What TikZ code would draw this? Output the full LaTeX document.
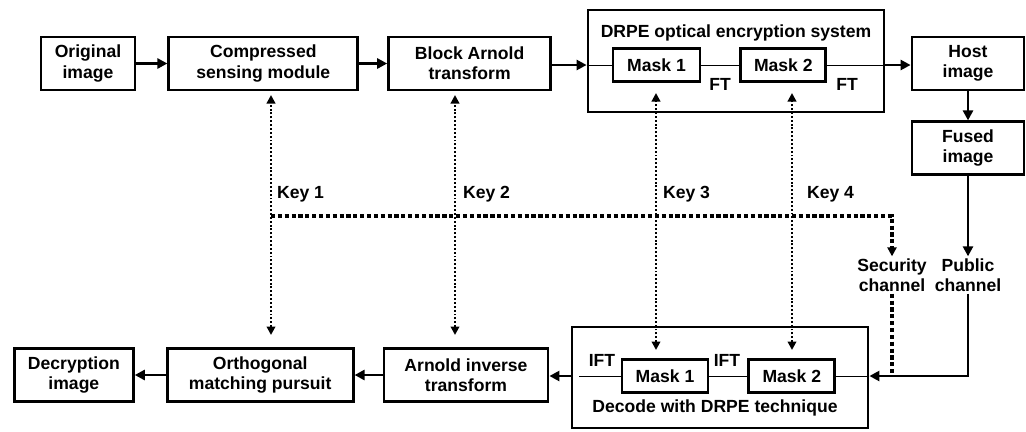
\documentclass[tikz,border=0pt]{standalone}
\usepackage{fontspec}
\setmainfont{Liberation Sans}
\usetikzlibrary{positioning}
\usetikzlibrary{arrows.meta}

\begin{document}
\begin{tikzpicture}[
                font=\fontsize{10}{11.5}\selectfont\bfseries,
                blocknode/.style={rectangle, draw=black, line width=1.6pt, align=center, minimum height=1.06cm, inner sep=1pt},
                masknode/.style={rectangle, draw=black, line width=1.6pt, minimum width=1.72cm, minimum height=0.66cm, inner sep=1pt, fill=white},
                framenode/.style={rectangle, draw=black, line width=1.6pt, minimum width=5.92cm},
                labelnode/.style={align=center, inner sep=1pt},
                flow/.style={-{Triangle[length=2mm, width=2mm]}, line width=1.6pt},
                inline/.style={line width=0.5pt},
                keyline/.style={{Triangle[length=1.7mm, width=1.7mm]}-{Triangle[length=1.7mm, width=1.7mm]}, line width=1.35pt, dash pattern=on 1.1pt off 1.1pt},
                keybus/.style={line width=2.1pt, dash pattern=on 2.4pt off 1.5pt},
                ]
                \useasboundingbox (0,0) rectangle (20.52,-8.62);

                % encryption side
                \node[blocknode, minimum width=1.88cm] (O) at (1.76,-1.27) {Original\\image};
                \node[blocknode, minimum width=3.78cm, right=0.62cm of O] (C) {Compressed\\sensing module};
                \node[blocknode, minimum width=3.24cm, right=0.56cm of C] (B) {Block Arnold\\transform};

                \node[framenode, minimum height=2.04cm] (E) at (14.72,-1.22) {};
                \node[labelnode] (ET) at (14.72,-0.66) {DRPE optical encryption system};
                \node[masknode, minimum width=1.74cm] (M1) at (13.13,-1.3) {Mask 1};
                \node[masknode, minimum width=1.7cm, right=0.76cm of M1] (M2) {Mask 2};
                \node[labelnode] (FT1) at (14.4,-1.68) {FT};
                \node[labelnode] (FT2) at (16.94,-1.68) {FT};

                \node[blocknode, minimum width=2.24cm] (H) at (19.36,-1.27) {Host\\image};
                \node[blocknode, minimum width=2.24cm, below=0.58cm of H] (F) {Fused\\image};

                \node[labelnode] (S) at (17.84,-5.5) {Security\\channel};
                \node[labelnode] (P) at (19.36,-5.5) {Public\\channel};

                % decryption side
                \node[framenode, minimum height=2.02cm] (D) at (14.4,-7.55) {};
                \node[labelnode] (DT) at (14.3,-8.16) {Decode with DRPE technique};
                \node[masknode] (N1) at (13.3,-7.52) {Mask 1};
                \node[masknode, right=0.76cm of N1] (N2) {Mask 2};
                \node[labelnode] (IFT1) at (12.04,-7.2) {IFT};
                \node[labelnode] (IFT2) at (14.54,-7.2) {IFT};

                \node[blocknode, minimum width=3.28cm] (A) at (9.32,-7.5) {Arnold inverse\\transform};
                \node[blocknode, minimum width=3.72cm, left=0.56cm of A] (R) {Orthogonal\\matching pursuit};
                \node[blocknode, minimum width=2.38cm, left=0.62cm of R] (X) {Decryption\\image};

                % keys
                \coordinate (k1t) at (5.42,-1.9);
                \coordinate (k1b) at (5.42,-6.7);
                \coordinate (k2t) at (9.1,-1.9);
                \coordinate (k2b) at (9.1,-6.7);
                \coordinate (k3t) at (13.12,-1.86);
                \coordinate (k3b) at (13.12,-7.0);
                \coordinate (k4t) at (15.84,-1.86);
                \coordinate (k4b) at (15.84,-7.0);
                \coordinate (kbus) at (5.42,-4.32);

                \node[labelnode, anchor=west] (K1) at (5.5,-3.88) {Key 1};
                \node[labelnode, anchor=west] (K2) at (9.22,-3.88) {Key 2};
                \node[labelnode, anchor=west] (K3) at (13.22,-3.88) {Key 3};
                \node[labelnode, anchor=west] (K4) at (16.1,-3.88) {Key 4};

                % top row flow
                \draw[flow] (O) -- (C);
                \draw[flow] (C) -- (B);
                \draw[flow] (B.east |- M1) -- (E.west |- M1);
                \draw[inline] (E.west |- M1) -- (M1.west);
                \draw[inline] (M1.east) -- (M2.west);
                \draw[inline] (M2.east) -- (E.east |- M2);
                \draw[flow] (E.east |- M2) -- (H.west |- M2);
                \draw[flow] (H) -- (F);
                \draw[flow] (F) -- (P);

                % channels
                \draw[flow] (P.south) |- (D.east |- N2);
                \draw[keybus] (S.south) -- (S.south |- N2);
                \draw[keybus, -{Triangle[length=1.8mm, width=1.8mm]}] (kbus) -| (S.north);

                % bottom row flow
                \draw[inline] (D.east |- N2) -- (N2.east);
                \draw[inline] (N2.west) -- (N1.east);
                \draw[inline] (N1.west) -- ([xshift=0.16cm]D.west |- N1);
                \draw[flow] (D.west |- N1) -- (A.east |- N1);
                \draw[flow] (A) -- (R);
                \draw[flow] (R) -- (X);

                % key lines
                \draw[keyline] (k1b) -- (k1t);
                \draw[keyline] (k2b) -- (k2t);
                \draw[keyline] (k3b) -- (k3t);
                \draw[keyline] (k4b) -- (k4t);
            \end{tikzpicture}
\end{document}
